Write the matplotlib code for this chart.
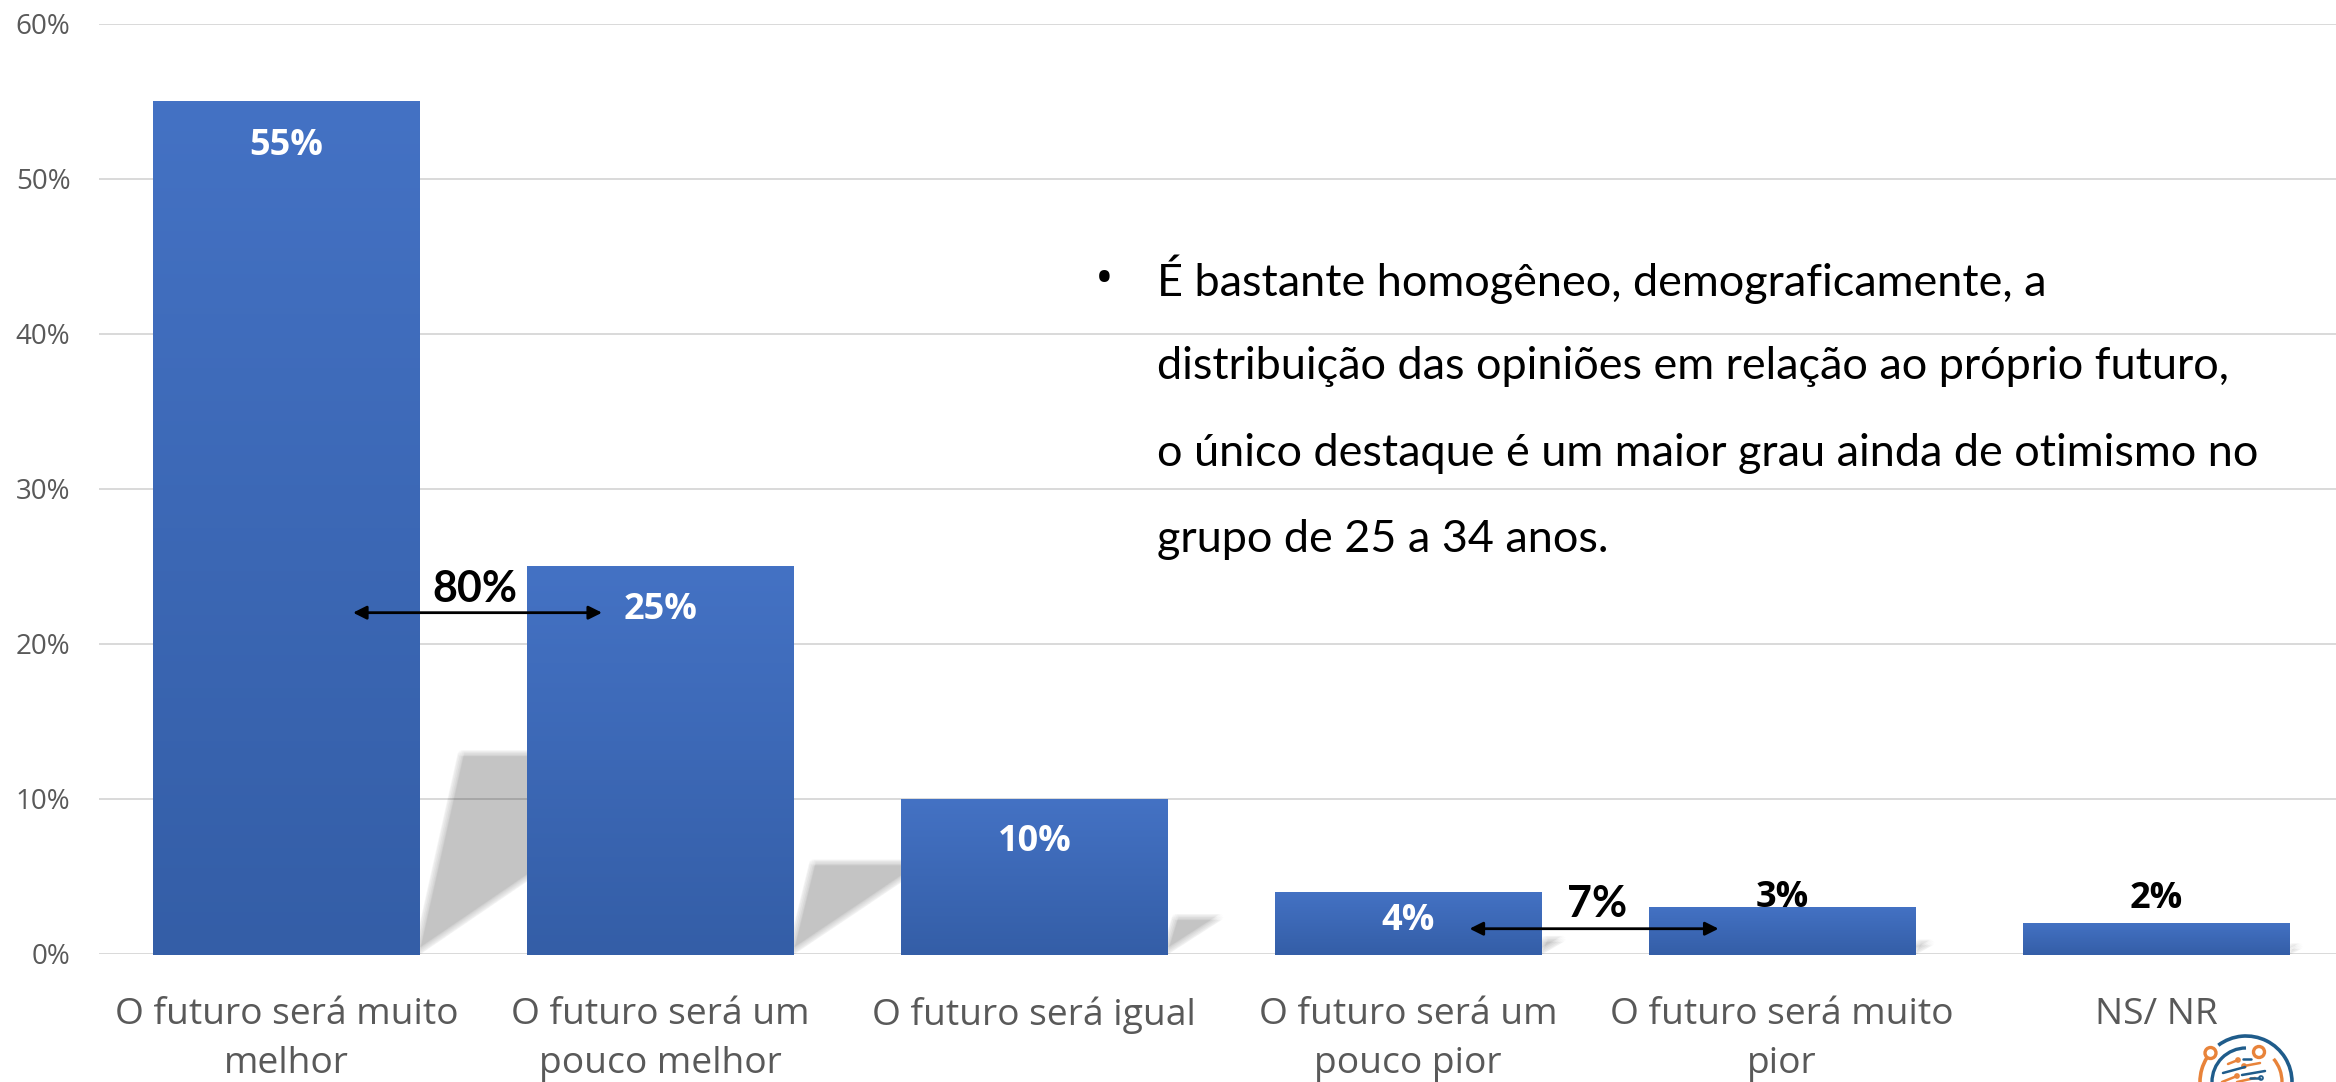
import matplotlib; matplotlib.use("Agg")
import matplotlib.pyplot as plt
import numpy as np
from matplotlib.colors import LinearSegmentedColormap
from matplotlib.patches import Arc, Circle, Polygon

W, H = 2336, 1082

categories = ["O futuro será muito\nmelhor", "O futuro será um\npouco melhor", "O futuro será igual",
              "O futuro será um\npouco pior", "O futuro será muito\npior", "NS/ NR"]
values = [55, 25, 10, 4, 3, 2]
label_colors = ["white", "white", "white", "white", "black", "black"]
label_offsets_px = [-44.5, -43.5, -43.5, -29.5, 9.5, 23.5]
yticks = [0, 10, 20, 30, 40, 50, 60]
note_lines = ["É bastante homogêneo, demograficamente, a",
              "distribuição das opiniões em relação ao próprio futuro,",
              "o único destaque é um maior grau ainda de otimismo no",
              "grupo de 25 a 34 anos."]
note_y_px = [279, 366, 453, 540]

BAR_W = 0.714
OVERHANG = 0.1  # bars sit a hair below the 0% line
cmap = LinearSegmentedColormap.from_list("bar", ["#345EA7", "#4472C4"])

plt.rcParams["font.family"] = ["Open Sans", "DejaVu Sans"]
fig = plt.figure(figsize=(W / 100, H / 100), dpi=100, facecolor="white")
ax = fig.add_axes([99.5 / W, 1 - 953.5 / H, 1 - 99.5 / W, 929.5 / H])

x = np.arange(len(values))

# shadows behind the bars, stacked with small shifts to get a soft edge
shifts = [(np.cos(t) * 0.009, np.sin(t) * 0.2) for t in np.linspace(0, 2 * np.pi, 12, endpoint=False)]
for i, v in enumerate(values):
    dy = 0.235 * v
    pts = np.array([(x[i] + BAR_W / 2 - 0.01, 0), (x[i] + BAR_W / 2 + 0.0085 * dy, dy),
                    (x[i] + BAR_W / 2 + 0.06 * dy, dy)])
    for s in shifts:
        ax.add_patch(Polygon(pts + s, closed=True, facecolor="black", edgecolor="none",
                             alpha=0.0184, zorder=1.5))

bars = ax.bar(x, np.array(values) + OVERHANG, bottom=-OVERHANG, width=BAR_W, color="#4472C4",
              zorder=2, clip_on=False)
grad = np.linspace(1, 0, 256).reshape(-1, 1)
for b in bars:
    im = ax.imshow(grad, cmap=cmap, aspect="auto", zorder=2.1, clip_on=True,
                   extent=(b.get_x(), b.get_x() + BAR_W, -OVERHANG, b.get_height() - OVERHANG))
    im.set_clip_path(b)

ax.set_xlim(-0.5, 5.5 - 7 / 374)
ax.set_ylim(0, 60)
ax.set_yticks(yticks)
ax.set_yticklabels([f"{t}%" for t in yticks], fontsize=20, color="#595959")
ax.set_xticks(x)
ax.set_xticklabels(categories, fontsize=26.8, color="#595959", linespacing=1.5)
ax.tick_params(axis="both", length=0)
ax.tick_params(axis="y", pad=21)
ax.tick_params(axis="x", pad=31)
ax.grid(axis="y", color="#D9D9D9", lw=1.4, zorder=1)
ax.set_axisbelow(True)
for s in ax.spines.values():
    s.set_visible(False)

for i, v in enumerate(values):
    ax.annotate(f"{v}%", (x[i], v), xytext=(0, label_offsets_px[i] * 0.72), textcoords="offset points",
                ha="center", va="center", fontsize=26, fontweight="bold", color=label_colors[i], zorder=4)

# brackets for the summed shares
for (x0, x1, y, txt, tx, ty) in [(0.178, 0.844, 22, "80%", 0.503, 23.5),
                                 (3.164, 3.83, 1.6, "7%", 3.505, 3.2)]:
    ax.annotate("", xy=(x1, y), xytext=(x0, y), zorder=5,
                arrowprops=dict(arrowstyle="<|-|>", color="black", lw=2, mutation_scale=20,
                                shrinkA=0, shrinkB=0))
    ax.text(tx, ty, txt, ha="center", va="center", fontsize=31, fontweight="bold", color="black",
            family=["Lato", "DejaVu Sans"], zorder=5)

fig.text(1095 / W, 1 - 281 / H, "•", fontsize=36, ha="left", va="center", family=["Open Sans", "DejaVu Sans"])
for line, yp in zip(note_lines, note_y_px):
    fig.text(1157 / W, 1 - yp / H, line, fontsize=32.4, ha="left", va="center", color="black",
             family=["Lato", "DejaVu Sans"])

# small logo cut off at the bottom right corner
lg = fig.add_axes([0, 0, 1, 1], facecolor="none")
lg.set_xlim(0, W); lg.set_ylim(H, 0); lg.axis("off")
blue, orange = "#1F5C8B", "#E8833A"
lg.add_patch(Arc((2246, 1082), 92, 92, theta1=233, theta2=360, color=blue, lw=2.6))
lg.add_patch(Arc((2246, 1082), 68, 68, theta1=180, theta2=270, color=blue, lw=2.4))
lg.add_patch(Arc((2246, 1082), 92, 92, theta1=180, theta2=212, color=orange, lw=2.6))
lg.add_patch(Arc((2246, 1082), 72, 72, theta1=320, theta2=360, color=orange, lw=2.4))
for cx, cy in [(2210.5, 1053), (2259, 1052)]:
    lg.add_patch(Circle((cx, cy), 5.5, facecolor="white", edgecolor=orange, lw=2.4))
for (x0, y0, x1, y1, c) in [(2228, 1064, 2238, 1060, orange), (2243, 1059, 2251, 1059, blue),
                            (2244, 1066, 2260, 1063, orange), (2223, 1073, 2245, 1067, blue),
                            (2242, 1075, 2265, 1071, blue), (2222, 1082, 2237, 1076, orange),
                            (2237, 1082, 2255, 1078, orange), (2250, 1078, 2260, 1078, blue)]:
    lg.plot([x0, x1], [y0, y1], color=c, lw=1.8, solid_capstyle="round")
for cx, cy, c in [(2238, 1060, orange), (2244, 1066, orange), (2237, 1076, orange), (2261, 1078, blue)]:
    lg.add_patch(Circle((cx, cy), 2, facecolor="white", edgecolor=c, lw=1.2))

fig.savefig("out.png", dpi=100)
